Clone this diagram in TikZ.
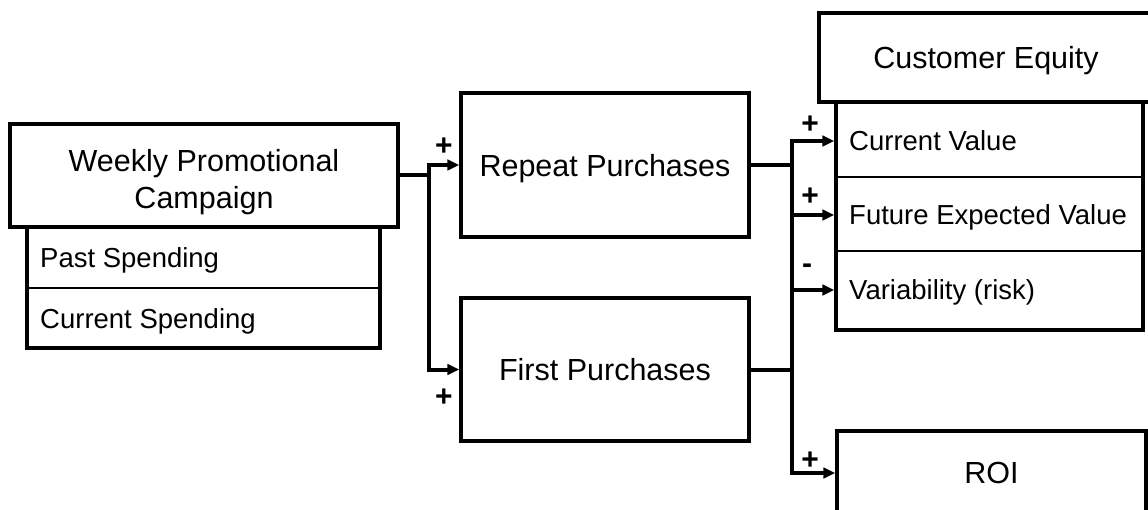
\documentclass[tikz,border=0pt]{standalone}
\usepackage{fontspec}
\setmainfont{Liberation Sans}
\usetikzlibrary{arrows.meta}
\begin{document}
\begin{tikzpicture}[x=1pt,y=-1pt,
  box/.style={draw, line width=3.5pt, fill=white, inner sep=0pt, text depth=0pt,
    font=\fontsize{30.5}{37}\selectfont, align=center},
  rowtext/.style={anchor=west, inner sep=0pt, text height=19.5pt, text depth=0pt,
    font=\fontsize{27.5}{32}\selectfont},
  divider/.style={line width=1.2pt},
  conn/.style={line width=4pt, line join=miter},
  tip/.tip={Triangle[length=12pt,width=10.5pt]},
  arr/.style={conn, -tip},
  sign/.style={inner sep=0pt, font=\bfseries\fontsize{30}{34}\selectfont}]
\useasboundingbox (0,0) rectangle (1148,510);
\clip (0,0) rectangle (1148,510);

% campaign block with its two spending rows
\node[box, minimum width=353pt, minimum height=121pt] (wps) at (203.5,287.5) {};
\draw[divider] (27,288) -- (380,288);
\node[rowtext] (past) at (40,258) {Past Spending};
\node[rowtext] (curs) at (40,319) {Current Spending};
\node[box, minimum width=388pt, minimum height=103pt] (wpc) at (204,175.5) {};
\node[inner sep=0pt, font=\fontsize{30.5}{37}\selectfont, align=center, text depth=0pt]
  (wpct) at (204,178.5) {Weekly Promotional\\Campaign};

% purchase boxes
\node[box, minimum width=288pt, minimum height=144pt] (rep) at (605,165) {Repeat Purchases};
\node[box, minimum width=288pt, minimum height=143pt] (fir) at (605,369.5) {First Purchases};

% customer equity block with three rows
\node[box, minimum width=307pt, minimum height=228pt] (ces) at (989.5,216) {};
\draw[divider] (836,177) -- (1143,177);
\draw[divider] (836,251) -- (1143,251);
\node[box, minimum width=334pt, minimum height=89pt] (ceh) at (986,57.5) {Customer Equity};
\node[rowtext] (cv) at (849,141) {Current Value};
\node[rowtext] (fe) at (849,215) {Future Expected Value};
\node[rowtext] (va) at (849,290) {Variability (risk)};

% return on investment
\node[box, minimum width=309pt, minimum height=84pt] (roi) at (991.5,473) {ROI};

% junction points of the connector trunks
\coordinate (ja) at (429,176);
\coordinate (jb) at (792,165);

% campaign -> purchases
\draw[conn] (wpc.east) -- (wpc.east -| ja);
\draw[conn, tip-tip] (rep.west) -- (ja |- rep.west) -- (ja |- fir.west) -- (fir.west);

% purchases -> customer equity and ROI
\draw[conn] (rep.east) -- (rep.east -| jb);
\draw[conn] (fir.east) -- (fir.east -| jb);
\draw[conn, tip-tip] (ces.west |- cv) -- (jb |- cv) -- (jb |- roi.west) -- (roi.west);
\draw[arr] (jb |- fe) -- (ces.west |- fe);
\draw[arr] (jb |- va) -- (ces.west |- va);

% effect signs
\node[sign] (s1) at (444,147) {+};
\node[sign] (s2) at (444,398) {+};
\node[sign] (s3) at (810,125) {+};
\node[sign] (s4) at (810,197) {+};
\node[sign] (s5) at (807,269) {-};
\node[sign] (s6) at (810,461) {+};
\end{tikzpicture}
\end{document}
